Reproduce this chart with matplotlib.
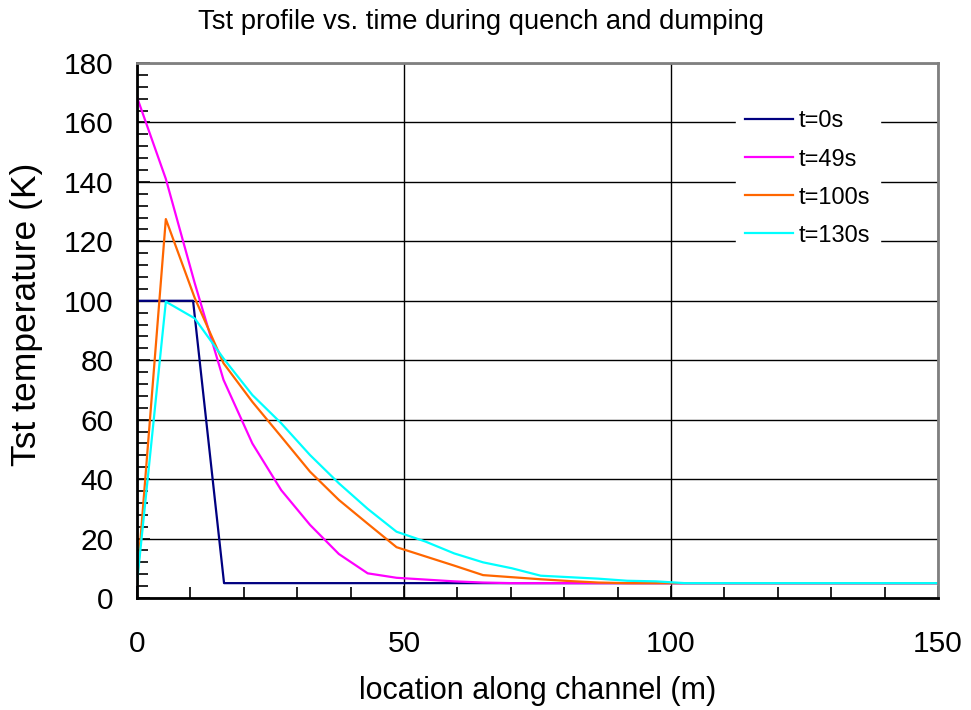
import matplotlib
matplotlib.use("Agg")
import matplotlib.pyplot as plt
from matplotlib.ticker import MultipleLocator

plt.rcParams['font.family'] = ['Liberation Sans', 'DejaVu Sans']

# node positions along the channel (m)
x_t0 = [0, 5.4, 10.5, 16.3, 150]
t0 = [100, 100, 100, 5, 5]

x_nodes = [0, 5.4, 10.8, 16.2, 21.6, 27.0, 32.4, 37.8, 43.2, 48.6, 54.0, 59.4,
           64.8, 70.2, 75.6, 81.0, 86.4, 91.8, 97.2, 102.6, 150]
t49 = [168.5, 141, 106, 73.4, 52, 36.3, 24.6, 14.8, 8.3, 6.8, 6.2, 5.6,
       5.2, 5, 5, 5, 5, 5, 5, 5, 5]
t100 = [5, 127.5, 101, 79, 66, 54.3, 42.5, 33, 25, 17.1, 14, 10.9,
        7.7, 7.0, 6.3, 5.7, 5.2, 5, 5, 5, 5]
t130 = [5, 99.7, 94.1, 80.6, 68.3, 58.8, 48.1, 38.6, 30, 22.3, 19, 15,
        12, 10, 7.5, 7, 6.5, 5.8, 5.6, 5, 5]

labels = ['t=0s', 't=49s', 't=100s', 't=130s']
colors = ['#000080', '#FF00FF', '#FF6600', '#00FFFF']

fig = plt.figure(figsize=(9.71, 7.10), dpi=100)
ax = fig.add_axes([137/971, 1 - 598/710, (938-137)/971, (598-63)/710])

ax.plot(x_t0, t0, color=colors[0], lw=1.6, label=labels[0])
ax.plot(x_nodes, t49, color=colors[1], lw=1.6, label=labels[1])
ax.plot(x_nodes, t100, color=colors[2], lw=1.6, label=labels[2])
ax.plot(x_nodes, t130, color=colors[3], lw=1.6, label=labels[3])

ax.set_xlim(0, 150)
ax.set_ylim(0, 180)
ax.xaxis.set_major_locator(MultipleLocator(50))
ax.xaxis.set_minor_locator(MultipleLocator(10))
ax.yaxis.set_major_locator(MultipleLocator(20))
ax.yaxis.set_minor_locator(MultipleLocator(4))
ax.grid(True, which='major', color='black', lw=1.0)
ax.set_axisbelow(True)

ax.tick_params(which='both', direction='in', top=False, right=False,
               labelsize=21.5, width=1.2)
ax.tick_params(which='major', length=9)
ax.tick_params(which='minor', length=8)
ax.tick_params(axis='x', which='major', pad=23)
ax.tick_params(axis='y', which='major', pad=17)

for side in ['left', 'bottom']:
    ax.spines[side].set_linewidth(2)
    ax.spines[side].set_color('black')
for side in ['top', 'right']:
    ax.spines[side].set_linewidth(2)
    ax.spines[side].set_color('#808080')

ax.set_xlabel('location along channel (m)', fontsize=22, labelpad=13)
ax.set_ylabel('Tst temperature (K)', fontsize=25.5, labelpad=15)
ax.yaxis.label.set_y(0.531)

fig.text(481/971, 1 - 22/710, 'Tst profile vs. time during quench and dumping',
         ha='center', va='center', fontsize=19.7)

leg = ax.legend(loc='upper left', bbox_to_anchor=(736/971, 1 - 101/710),
                bbox_transform=fig.transFigure, frameon=True, fontsize=17,
                handlelength=2.0, handletextpad=0.25, labelspacing=0.68,
                borderpad=0.4, borderaxespad=0, fancybox=False)
leg.get_frame().set_edgecolor('white')
leg.get_frame().set_facecolor('white')
leg.get_frame().set_alpha(1)

fig.savefig('out.png', dpi=100)
